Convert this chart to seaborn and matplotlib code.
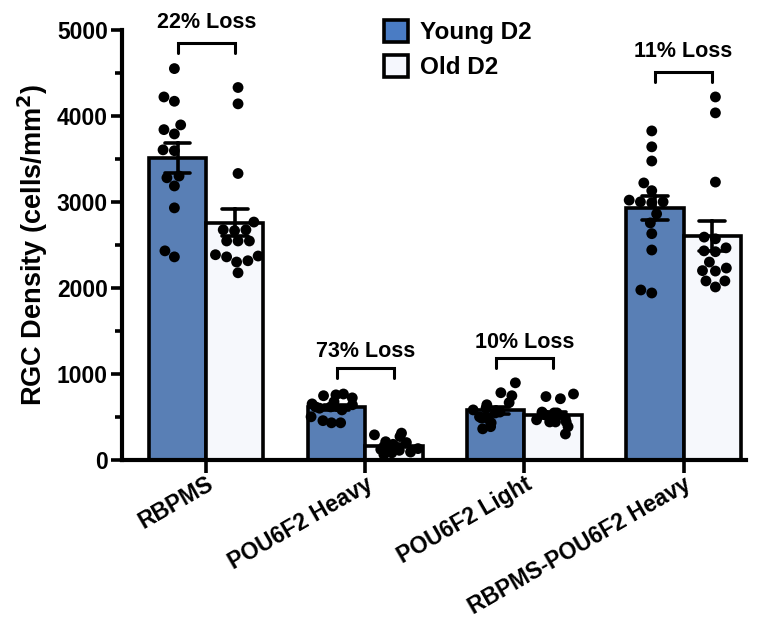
import numpy as np
import pandas as pd
import matplotlib
matplotlib.use("Agg")
import matplotlib.pyplot as plt
import seaborn as sns
from matplotlib.patches import Patch

categories = ["RBPMS", "POU6F2 Heavy", "POU6F2 Light", "RBPMS-POU6F2 Heavy"]
groups = ["Young D2", "Old D2"]

young_rbpms = [4550, 4220, 4170, 3895, 3840, 3790, 3605, 3595, 3280, 3300, 3185, 2930, 2430, 2360]
old_rbpms = [4330, 4140, 3330, 2765, 2675, 2675, 2665, 2545, 2545, 2545, 2385, 2370, 2315, 2360, 2300, 2175]
young_heavy = [755, 765, 745, 675, 720, 640, 615, 600, 650, 615, 500, 430, 430, 455, 580]
old_heavy = [310, 290, 270, 210, 180, 170, 200, 160, 120, 110, 90, 100, 60, 80, 130]
young_light = [895, 780, 745, 665, 640, 580, 555, 545, 600, 500, 475, 430, 485, 360, 385]
old_light = [765, 710, 735, 520, 545, 545, 555, 545, 465, 440, 440, 440, 385, 300, 485]
young_dual = [3825, 3640, 3475, 3220, 3130, 3000, 3000, 2990, 3020, 2860, 2755, 2630, 2440, 1940, 1975]
old_dual = [4220, 4035, 3230, 2570, 2590, 2465, 2430, 2420, 2300, 2230, 2200, 2195, 2080, 2080, 2010]

loss_labels = ["22% Loss", "73% Loss", "10% Loss", "11% Loss"]

series = {
    ("RBPMS", "Young D2"): young_rbpms, ("RBPMS", "Old D2"): old_rbpms,
    ("POU6F2 Heavy", "Young D2"): young_heavy, ("POU6F2 Heavy", "Old D2"): old_heavy,
    ("POU6F2 Light", "Young D2"): young_light, ("POU6F2 Light", "Old D2"): old_light,
    ("RBPMS-POU6F2 Heavy", "Young D2"): young_dual, ("RBPMS-POU6F2 Heavy", "Old D2"): old_dual,
}
rows = []
for (cat, grp), vals in series.items():
    for v in vals:
        rows.append({"Marker": cat, "Group": grp, "Density": v})
df = pd.DataFrame(rows)

sns.set_theme(style="ticks")
plt.rcParams["font.family"] = ["Liberation Sans", "DejaVu Sans"]
plt.rcParams["font.weight"] = "bold"
plt.rcParams["mathtext.default"] = "bf"
for k in ["text.color", "axes.labelcolor", "xtick.color", "ytick.color", "axes.edgecolor"]:
    plt.rcParams[k] = "black"

np.random.seed(3)

fig = plt.figure(figsize=(7.57, 6.23), dpi=100)
ax = fig.add_axes([0.161, 0.262, 0.824, 0.690])

blue = "#4A7CC4"
white = "#F5F7FD"
lw = 2.6

sns.barplot(data=df, x="Marker", y="Density", hue="Group", order=categories,
            hue_order=groups, palette=[blue, white], errorbar="se", capsize=0.32,
            width=0.72, gap=0, edgecolor="black", linewidth=lw,
            err_kws={"color": "black", "linewidth": lw, "zorder": 5},
            legend=False, ax=ax)

tall = df["Marker"].isin(["RBPMS", "RBPMS-POU6F2 Heavy"])
sns.swarmplot(data=df[tall], x="Marker", y="Density", hue="Group", order=categories,
              hue_order=groups, dodge=True, palette=["black", "black"], size=7.8,
              legend=False, ax=ax, zorder=4)
sns.stripplot(data=df[~tall], x="Marker", y="Density", hue="Group", order=categories,
              hue_order=groups, dodge=True, jitter=0.3, palette=["black", "black"],
              size=7.8, legend=False, ax=ax, zorder=4)

ax.set_ylim(0, 5000)
ax.set_xlim(-0.53, 3.39)
ax.set_yticks([0, 1000, 2000, 3000, 4000, 5000])
ax.set_yticks(np.arange(500, 5000, 1000), minor=True)
ax.tick_params(axis="y", which="major", length=8, width=lw, labelsize=16.5, pad=2)
ax.tick_params(axis="y", which="minor", length=5, width=lw)
ax.tick_params(axis="x", which="major", length=9, width=lw, labelsize=16.5, pad=0)
for lab in ax.get_yticklabels():
    lab.set_fontweight("bold")
ax.set_xticks(range(len(categories)))
ax.set_xticklabels(categories, rotation=30, ha="right", rotation_mode="anchor",
                   fontweight="bold", fontsize=16.5)
ax.set_xlabel("")
ax.set_ylabel(r"RGC Density (cells/mm$^{2}$)", fontsize=19.5, fontweight="bold", labelpad=5)
sns.despine(ax=ax)
for s in ["left", "bottom"]:
    ax.spines[s].set_linewidth(lw + 0.4)

# loss brackets
bracket_y = [4850, 1070, 1185, 4510]
drop = 115
text_y = [5090, 1265, 1360, 4745]
half = 0.18
for i, (lab, by, ty) in enumerate(zip(loss_labels, bracket_y, text_y)):
    ax.plot([i - half, i - half, i + half, i + half], [by - drop, by, by, by - drop],
            color="black", lw=2.2, clip_on=False, solid_joinstyle="miter")
    ax.text(i, ty, lab, ha="center", va="center", fontsize=15.5, fontweight="bold",
            clip_on=False)

handles = [Patch(facecolor=blue, edgecolor="black", linewidth=lw, label="Young D2"),
           Patch(facecolor=white, edgecolor="black", linewidth=lw, label="Old D2")]
fig.legend(handles=handles, loc="upper left", bbox_to_anchor=(0.478, 1.003),
           frameon=False, prop={"weight": "bold", "size": 17.5}, handlelength=1.0,
           handleheight=1.0, handletextpad=0.5, labelspacing=0.45)

fig.savefig("out.png", dpi=100)
